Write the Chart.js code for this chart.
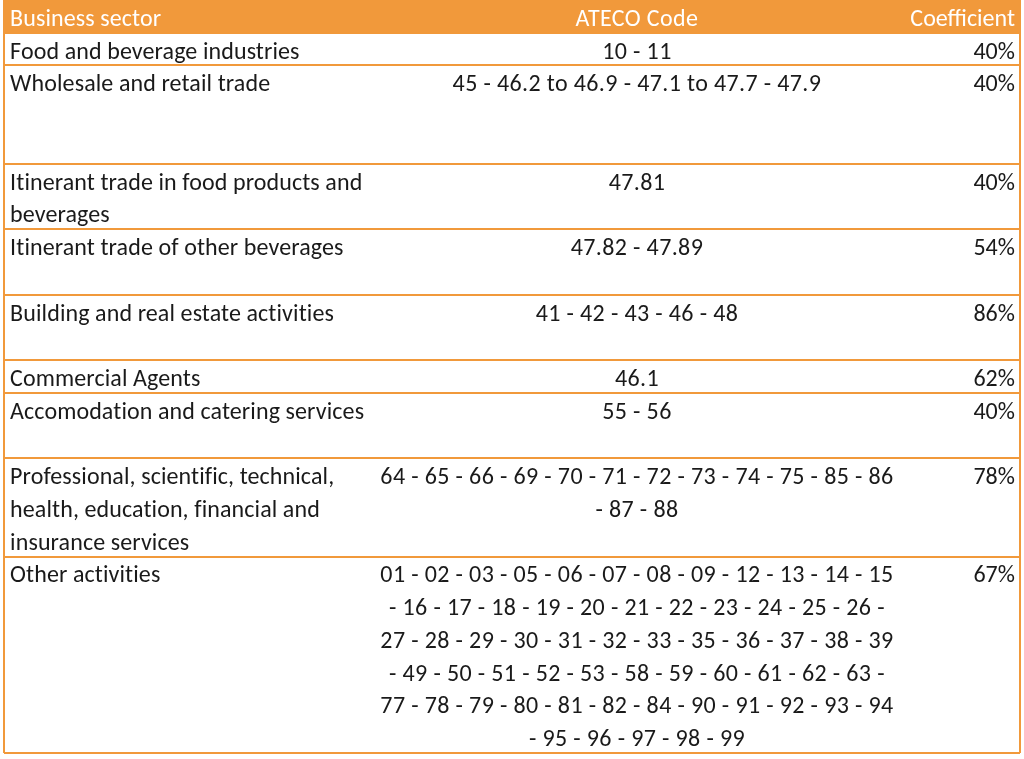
<!DOCTYPE html>
<html>
<head>
<meta charset="utf-8">
<script src="https://cdn.jsdelivr.net/npm/chart.js@4.4.1/dist/chart.umd.min.js"></script>
<style>
  html, body { margin: 0; padding: 0; background: #ffffff; }
  #wrap { width: 1024px; height: 759px; }
</style>
</head>
<body>
<div id="wrap"><canvas id="table" width="1024" height="759"></canvas></div>
<script>
// Column headers
const headers = ['Business sector', 'ATECO Code', 'Coefficient'];

// Business sectors (one entry per row, split in the lines shown)
const sectors = [
  ['Food and beverage industries'],
  ['Wholesale and retail trade'],
  ['Itinerant trade in food products and', 'beverages'],
  ['Itinerant trade of other beverages'],
  ['Building and real estate activities'],
  ['Commercial Agents'],
  ['Accomodation and catering services'],
  ['Professional, scientific, technical,', 'health, education, financial and', 'insurance services'],
  ['Other activities']
];

// ATECO codes
const codes = [
  ['10 - 11'],
  ['45 - 46.2 to 46.9 - 47.1 to 47.7 - 47.9'],
  ['47.81'],
  ['47.82 - 47.89'],
  ['41 - 42 - 43 - 46 - 48'],
  ['46.1'],
  ['55 - 56'],
  ['64 - 65 - 66 - 69 - 70 - 71 - 72 - 73 - 74 - 75 - 85 - 86', '- 87 - 88'],
  ['01 - 02 - 03 - 05 - 06 - 07 - 08 - 09 - 12 - 13 - 14 - 15',
   '- 16 - 17 - 18 - 19 - 20 - 21 - 22 - 23 - 24 - 25 - 26 -',
   '27 - 28 - 29 - 30 - 31 - 32 - 33 - 35 - 36 - 37 - 38 - 39',
   '- 49 - 50 - 51 - 52 - 53 - 58 - 59 - 60 - 61 - 62 - 63 -',
   '77 - 78 - 79 - 80 - 81 - 82 - 84 - 90 - 91 - 92 - 93 - 94',
   '- 95 - 96 - 97 - 98 - 99']
];

// Coefficients
const coefficients = ['40%', '40%', '40%', '54%', '86%', '62%', '40%', '78%', '67%'];

// Height of every row, counted in text lines (header first)
const rowLines = [1, 1, 3, 2, 2, 2, 1, 2, 3, 6];

const ORANGE = '#f1993b';
const TEXT = '#1a1a1a';
const FONT = '24px Carlito, Lato, sans-serif';

// row boundaries in line units: 0, 1, 2, 5, ...
const bounds = [0];
rowLines.forEach(n => bounds.push(bounds[bounds.length - 1] + n));
const totalLines = bounds[bounds.length - 1];

// column anchors on the x scale (0..1) and how text sits on them
const columns = [
  { x: 0.006, align: 'left', spacing: '0.1px' },
  { x: 0.623, align: 'center', spacing: '0.37px' },
  { x: 0.995, align: 'right', spacing: '0px' }
];

const tablePlugin = {
  id: 'tableCells',
  beforeDatasetsDraw(chart) {
    const { ctx, scales: { x, y } } = chart;
    // header band
    ctx.save();
    ctx.fillStyle = ORANGE;
    const top = y.getPixelForValue(bounds[0]);
    const bottom = y.getPixelForValue(bounds[1]);
    ctx.fillRect(x.getPixelForValue(0), top, x.getPixelForValue(1) - x.getPixelForValue(0), bottom - top);
    ctx.restore();
  },
  afterDatasetsDraw(chart) {
    const { ctx, scales: { x, y } } = chart;
    ctx.save();
    ctx.font = FONT;
    ctx.textBaseline = 'alphabetic';

    const drawLines = (lines, col, start) => {
      ctx.textAlign = columns[col].align;
      ctx.letterSpacing = columns[col].spacing;
      lines.forEach((line, k) => {
        ctx.fillText(line, x.getPixelForValue(columns[col].x), y.getPixelForValue(start + k + 0.79));
      });
    };

    // header
    ctx.fillStyle = '#ffffff';
    headers.forEach((h, i) => drawLines([h], i, bounds[0]));

    // body rows
    ctx.fillStyle = TEXT;
    sectors.forEach((s, r) => {
      const start = bounds[r + 1];
      drawLines(s, 0, start);
      drawLines(codes[r], 1, start);
      drawLines([coefficients[r]], 2, start);
    });
    ctx.restore();
  }
};

new Chart(document.getElementById('table'), {
  type: 'scatter',
  data: { datasets: [] },
  options: {
    responsive: false,
    animation: false,
    layout: { padding: { left: 4, right: 4, top: 0, bottom: 6 } },
    plugins: { legend: { display: false }, tooltip: { enabled: false } },
    scales: {
      x: {
        type: 'linear', min: 0, max: 1,
        ticks: { display: false },
        border: { display: false },
        grid: { color: ORANGE, lineWidth: 2, drawTicks: false },
        afterBuildTicks: axis => { axis.ticks = [{ value: 0 }, { value: 1 }]; }
      },
      y: {
        type: 'linear', min: 0, max: totalLines, reverse: true,
        ticks: { display: false },
        border: { display: false },
        grid: { color: ORANGE, lineWidth: 2, drawTicks: false },
        afterBuildTicks: axis => { axis.ticks = bounds.map(v => ({ value: v })); }
      }
    }
  },
  plugins: [tablePlugin]
});
</script>
</body>
</html>
